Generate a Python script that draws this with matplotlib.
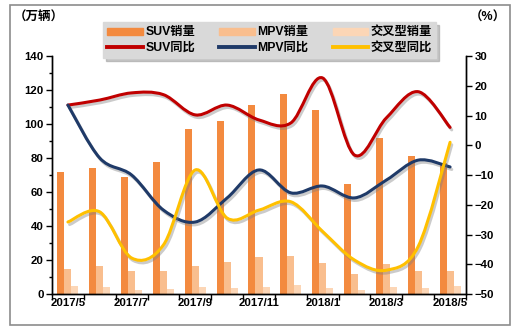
import matplotlib
matplotlib.use("Agg")
import matplotlib.pyplot as plt
import numpy as np
from matplotlib.path import Path
from matplotlib.patches import PathPatch, Rectangle, Patch
from matplotlib.lines import Line2D
import matplotlib.patheffects as pe

plt.rcParams['font.family'] = ['Liberation Sans', 'Noto Sans CJK SC', 'DejaVu Sans']
plt.rcParams['font.weight'] = 'bold'

months = ["2017/5", "2017/6", "2017/7", "2017/8", "2017/9", "2017/10", "2017/11",
          "2017/12", "2018/1", "2018/2", "2018/3", "2018/4", "2018/5"]
suv_sales = [71.5, 74, 69, 77.5, 97, 102, 111, 117.5, 108, 65, 92, 81, 77]
mpv_sales = [15, 16.5, 13.5, 13.5, 16.5, 19, 22, 22.5, 18, 12, 17.5, 13.5, 13.5]
cross_sales = [4.5, 4, 2.5, 3, 4, 3.5, 4, 5.5, 3.5, 2.5, 4, 3.5, 4.5]
suv_yoy = [13.5, 15.2, 17.6, 17.0, 10.2, 13.5, 8.5, 7.5, 22.6, -3.3, 9.2, 18.0, 6.0]
mpv_yoy = [13.5, -4.3, -10.0, -21.8, -25.8, -17.7, -8.3, -16.0, -13.7, -17.7, -11.7, -5.0, -7.3]
cross_yoy = [-25.8, -22.4, -37.9, -33.5, -8.3, -24.5, -21.8, -19.0, -29.0, -38.6, -42.0, -34.0, 1.0]
tick_labels = ["2017/5", "2017/7", "2017/9", "2017/11", "2018/1", "2018/3", "2018/5"]

c_suv, c_mpv, c_cross = '#F38A3F', '#F9BE8E', '#FCD6B6'
l_suv, l_mpv, l_cross = '#C00000', '#1F3A68', '#FFC000'

W, H = 519, 334
fig = plt.figure(figsize=(W/100, H/100), dpi=100)
ax = fig.add_axes([52/W, 1-294/H, (466-52)/W, (294-56)/H])
ax2 = ax.twinx()

x = np.arange(len(months))
bw = 0.22
ax.bar(x - bw, suv_sales, bw, color=c_suv, zorder=2)
ax.bar(x, mpv_sales, bw, color=c_mpv, zorder=2)
ax.bar(x + bw, cross_sales, bw, color=c_cross, zorder=2)

def smooth_path(xs, ys):
    P = np.column_stack([xs, ys]).astype(float)
    n = len(P)
    verts = [P[0]]
    codes = [Path.MOVETO]
    for i in range(n - 1):
        p0 = P[i-1] if i > 0 else P[i]
        p3 = P[i+2] if i + 2 < n else P[i+1]
        c1 = P[i] + (P[i+1] - p0) / 6.0
        c2 = P[i+1] - (p3 - P[i]) / 6.0
        verts += [c1, c2, P[i+1]]
        codes += [Path.CURVE4] * 3
    return Path(verts, codes)

shadow = [pe.SimpleLineShadow(offset=(1.2, -1.8), shadow_color='#7f7f7f', alpha=0.4), pe.Normal()]
for ys, col in [(suv_yoy, l_suv), (mpv_yoy, l_mpv), (cross_yoy, l_cross)]:
    patch = PathPatch(smooth_path(x, ys), fill=False, edgecolor=col, lw=2.2,
                      capstyle='round', joinstyle='round', zorder=3)
    patch.set_path_effects(shadow)
    ax2.add_patch(patch)

ax.set_xlim(-0.5, len(months) - 0.5)
ax.set_ylim(0, 140)
ax2.set_ylim(-50, 30)
ax.set_yticks(np.arange(0, 141, 20))
ax.set_yticks(np.arange(0, 141, 10), minor=True)
ax2.set_yticks(np.arange(-50, 31, 10))

ax.set_xticks(np.arange(-0.5, len(months), 1.0))
ax.set_xticklabels([])
ax.set_xticks(np.arange(0, len(months), 2), minor=True)
ax.set_xticklabels(tick_labels, minor=True)
ax.tick_params(axis='x', which='major', length=4, direction='out', width=1)
ax.tick_params(axis='x', which='minor', length=0, pad=3, labelsize=8.2)
ax.tick_params(axis='y', which='major', length=4, width=1, labelsize=8.2, pad=2)
ax.tick_params(axis='y', which='minor', length=2.5, width=1)
ax2.tick_params(axis='y', length=4, width=1, labelsize=8.2, pad=2)
for a in (ax, ax2):
    a.spines['top'].set_visible(False)
    for s in ('left', 'right', 'bottom'):
        a.spines[s].set_linewidth(1)
        a.spines[s].set_color('black')
for lab in ax.get_xticklabels(minor=True) + ax.get_yticklabels() + ax2.get_yticklabels():
    lab.set_fontweight('bold')

handles = [Patch(color=c_suv), Line2D([], [], color=l_suv, lw=2.8),
           Patch(color=c_mpv), Line2D([], [], color=l_mpv, lw=2.8),
           Patch(color=c_cross), Line2D([], [], color=l_cross, lw=2.8)]
labels = ["SUV销量", "SUV同比", "MPV销量", "MPV同比", "交叉型销量", "交叉型同比"]
leg = fig.legend(handles, labels, ncol=3, loc='upper left',
                 bbox_to_anchor=(97/W, 1-16/H), frameon=True, fancybox=False,
                 shadow={'color': '#a0a0a0', 'alpha': 0.6}, facecolor='#D9D9D9', edgecolor='#D9D9D9',
                 prop={'size': 8.8, 'weight': 'bold'}, handlelength=2.9, handleheight=0.5,
                 columnspacing=2.0, labelspacing=0.3, borderpad=0.35, handletextpad=0.2)
leg.get_frame().set_alpha(1)

fig.text(14/W, 1-18/H, "（万辆）", fontsize=9, fontweight='bold', va='center', ha='left')
fig.text(506/W, 1-18/H, "（%）", fontsize=9, fontweight='bold', va='center', ha='right')

fig.patches.append(Rectangle((10/W, 1-325/H), 500/W, 320/H, transform=fig.transFigure,
                             fill=False, edgecolor='#8c8c8c', lw=1.2))

fig.savefig("out.png", dpi=100)
